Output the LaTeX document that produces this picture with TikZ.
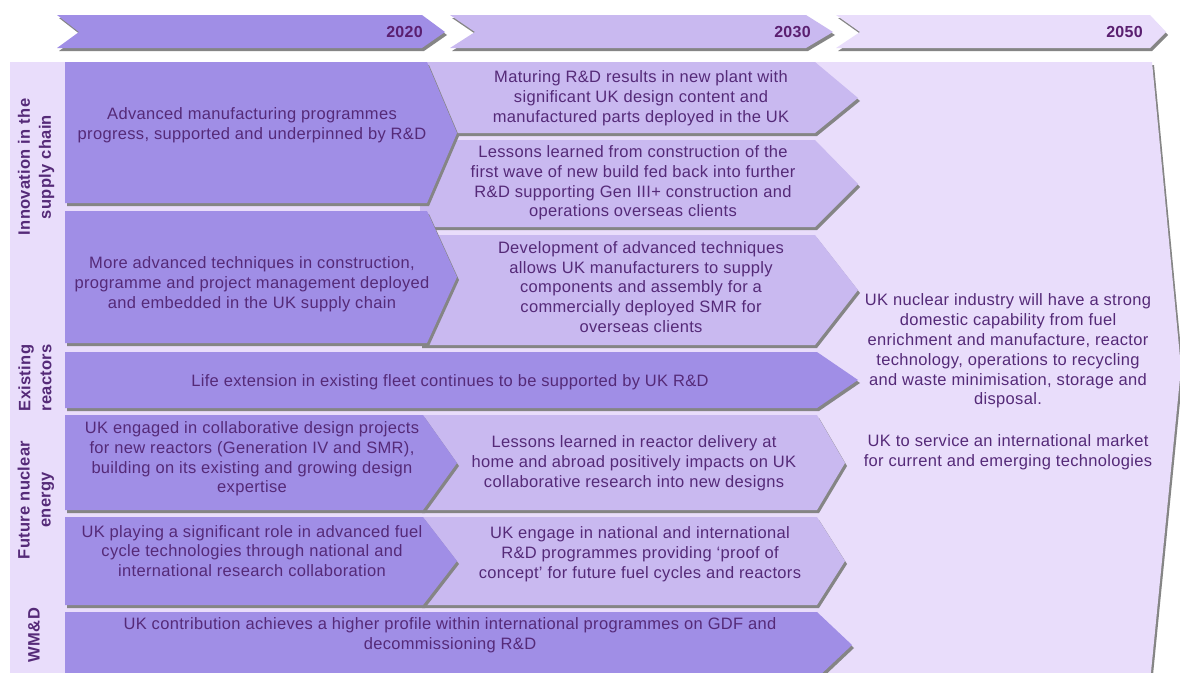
\documentclass[tikz,border=0pt]{standalone}
\usepackage{fontspec}
\setmainfont[LetterSpace=2]{Liberation Sans}
\usetikzlibrary{shadows}
\definecolor{dk}{HTML}{A08EE6}
\definecolor{md}{HTML}{C9B9F0}
\definecolor{lt}{HTML}{E9DDFB}
\definecolor{tx}{HTML}{552A78}
\definecolor{yr}{HTML}{5A1F70}
\definecolor{sh}{HTML}{858585}
\begin{document}
\begin{tikzpicture}[x=1pt,y=-1pt,
 shp/.style={fill=#1, drop shadow={shadow xshift=2pt,shadow yshift=-3pt,fill=sh,opacity=1}},
 txt/.style={text=tx, align=center, font=\fontsize{16.5}{19.8}\selectfont, inner sep=0pt},
 lab/.style={text=tx, align=center, font=\bfseries\fontsize{16.5}{21}\selectfont, rotate=90, inner sep=0pt},
 yrs/.style={text=yr, font=\bfseries\fontsize{16}{19}\selectfont, anchor=east, inner sep=0pt}]
\useasboundingbox (0,0) rectangle (1180,672);
\clip (0,0) rectangle (1180,672);
\fill[white] (0,0) rectangle (1180,672);
% background chevron (2050 column + label column)
\path[shp=lt] (10,62) -- (1152,62) -- (1181,368) -- (1150,682) -- (10,682) -- cycle;
% header arrows
\path[shp=dk] (57,15) -- (422,15) -- (445,32) -- (422,48) -- (57,48) -- (79,32) -- cycle;
\node[yrs] (y2020) at (423,32) {2020};
\path[shp=md] (450,15) -- (806,15) -- (833,32) -- (806,48) -- (450,48) -- (475,32) -- cycle;
\node[yrs] (y2030) at (811,32) {2030};
\path[shp=lt] (836,15) -- (1150,15) -- (1166,32) -- (1150,48) -- (836,48) -- (860,32) -- cycle;
\node[yrs] (y2050) at (1143,32) {2050};
% 2030 column boxes
\path[shp=md] (420,62) -- (815,62) -- (858,98) -- (815,133) -- (420,133) -- cycle;
\path[shp=md] (420,140) -- (815,140) -- (858,184) -- (815,227) -- (420,227) -- cycle;
\path[shp=md] (420,235) -- (815,235) -- (858,290) -- (815,345) -- (420,345) -- cycle;
\path[shp=md] (420,415) -- (817,415) -- (845,463) -- (817,510) -- (420,510) -- cycle;
\path[shp=md] (420,517) -- (817,517) -- (845,561) -- (817,605) -- (420,605) -- cycle;
% 2020 column boxes
\path[shp=dk] (65,62) -- (427,62) -- (457,133) -- (427,203) -- (65,203) -- cycle;
\path[shp=dk] (65,211) -- (427,211) -- (457,277) -- (427,343) -- (65,343) -- cycle;
\path[shp=dk] (65,352) -- (817,352) -- (858,380) -- (817,408) -- (65,408) -- cycle;
\path[shp=dk] (65,415) -- (423,415) -- (457,463) -- (423,510) -- (65,510) -- cycle;
\path[shp=dk] (65,517) -- (423,517) -- (457,561) -- (423,605) -- (65,605) -- cycle;
\path[shp=dk] (65,612) -- (817,612) -- (852,645) -- (817,678) -- (65,678) -- cycle;
% row labels
\node[lab] (lI) at (36,167) {Innovation in the\\supply chain};
\node[lab] (lX) at (35,378) {Existing\\reactors};
\node[lab] (lF) at (36,500) {Future nuclear\\energy};
\node[lab] (lW) at (34,635) {WM\&D};
% texts
\node[txt] (tA) at (252,125) {Advanced manufacturing programmes\\progress, supported and underpinned by R\&D};
\node[txt] (tB) at (641,98) {Maturing R\&D results in new plant with\\significant UK design content and\\manufactured parts deployed in the UK};
\node[txt] (tC) at (633,183) {Lessons learned from construction of the\\first wave of new build fed back into further\\R\&D supporting Gen III+ construction and\\operations overseas clients};
\node[txt] (tD) at (641,287) {Development of advanced techniques\\allows UK manufacturers to supply\\components and assembly for a\\commercially deployed SMR for\\overseas clients};
\node[txt] (tE) at (252,284) {More advanced techniques in construction,\\programme and project management deployed\\and embedded in the UK supply chain};
\node[txt] (tX) at (450,382) {Life extension in existing fleet continues to be supported by UK R\&D};
\node[txt] (tF1) at (252,459) {UK engaged in collaborative design projects\\for new reactors (Generation IV and SMR),\\building on its existing and growing design\\expertise};
\node[txt] (tF1r) at (634,463) {Lessons learned in reactor delivery at\\home and abroad positively impacts on UK\\collaborative research into new designs};
\node[txt] (tF2) at (252,551) {UK playing a significant role in advanced fuel\\cycle technologies through national and\\international research collaboration};
\node[txt] (tF2r) at (640,554) {UK engage in national and international\\R\&D programmes providing ‘proof of\\concept’ for future fuel cycles and reactors};
\node[txt] (tW) at (450,635) {UK contribution achieves a higher profile within international programmes on GDF and\\decommissioning R\&D};
\node[txt] (tR) at (1008,382) {UK nuclear industry will have a strong\\domestic capability from fuel\\enrichment and manufacture, reactor\\technology, operations to recycling\\and waste minimisation, storage and\\disposal.\\[22pt]UK to service an international market\\for current and emerging technologies};
\end{tikzpicture}
\end{document}
